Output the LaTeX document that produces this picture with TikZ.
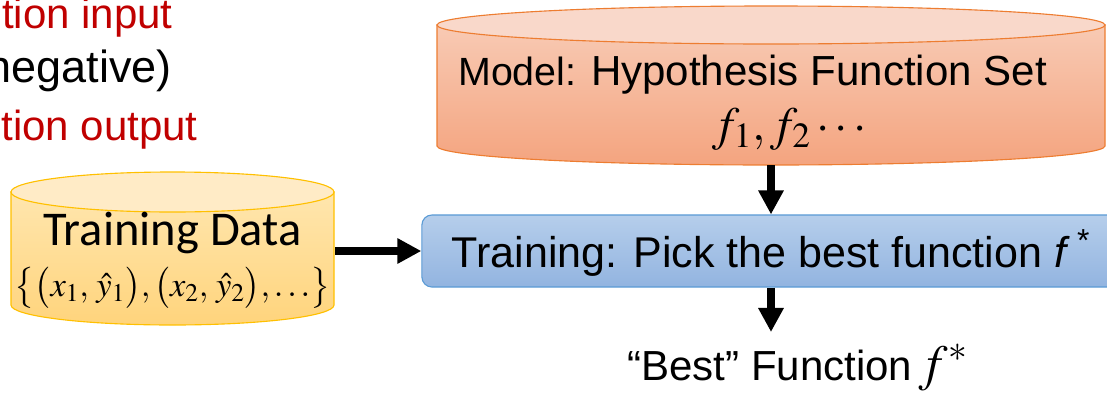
\documentclass[tikz,border=0pt]{standalone}
\usepackage{amsmath}
\usepackage{mathptmx}
\usepackage[no-math]{fontspec}
\setmainfont{Liberation Sans}
\newfontfamily\calibri{Carlito}
\usetikzlibrary{arrows.meta, positioning}

\definecolor{slidered}{HTML}{C00000}
\definecolor{datatop}{HTML}{FFEBC6}
\definecolor{dataupper}{HTML}{FFE6AE}
\definecolor{datalower}{HTML}{FFD47C}
\definecolor{dataline}{HTML}{FFC000}
\definecolor{modeltop}{HTML}{F9D8CA}
\definecolor{modelupper}{HTML}{F8CAB4}
\definecolor{modellower}{HTML}{F4A47F}
\definecolor{modelline}{HTML}{ED7D31}
\definecolor{boxupper}{HTML}{B6CEEB}
\definecolor{boxlower}{HTML}{92B4E0}
\definecolor{boxline}{HTML}{5B9BD5}

\newcommand{\pxsize}[1]{\fontsize{#1}{#1}\selectfont}

\tikzset{
    flow/.style={line width=5pt, -{Triangle[width=0.6cm, length=0.6cm]}},
    txt/.style={inner sep=0pt},
    trainbox/.style={draw=boxline, line width=0.8pt, rounded corners=0.25cm,
        top color=boxupper, bottom color=boxlower,
        minimum width=17.45cm, minimum height=1.8cm, inner sep=0pt,
        text height=23pt, text depth=0pt}
}

\begin{document}
\begin{tikzpicture}[x=0.025cm, y=-0.025cm]
    \useasboundingbox (0,0) rectangle (1107,396);
    \clip (0,0) rectangle (1107,396);

    % text cut off at the left
    \node[txt, anchor=base east, text=slidered] (in-lbl) at (173,28) {\pxsize{29.9pt}tion input};
    \node[txt, anchor=base east] (sign-lbl) at (172,82) {\pxsize{32pt}negative)};
    \node[txt, anchor=base east, text=slidered] (out-lbl) at (198,140) {\pxsize{29.9pt}tion output};

    % Training Data cylinder
    \draw[dataline, line width=0.8pt, top color=dataupper, bottom color=datalower]
        (11,192) -- (11,305) arc[start angle=180, end angle=0, x radius=161.5, y radius=20]
        -- (334,192) -- cycle;
    \draw[dataline, line width=0.8pt, fill=datatop] (172.5,192) ellipse[x radius=161.5, y radius=20];
    \node[txt, anchor=base] (data-lbl) at (172.5,245) {\calibri\pxsize{34.5pt}Training Data};
    \node[txt, anchor=base] (data-set) at (172.5,296)
        {\pxsize{24.5pt}$\bigl\{\bigl(x_1,\,\hat{y}_1\bigr),\bigl(x_2,\,\hat{y}_2\bigr),\ldots\bigr\}$};

    % Model cylinder
    \draw[modelline, line width=0.8pt, top color=modelupper, bottom color=modellower]
        (437,25) -- (437,146) arc[start angle=180, end angle=0, x radius=334, y radius=19]
        -- (1105,25) -- cycle;
    \draw[modelline, line width=0.8pt, fill=modeltop] (771,25) ellipse[x radius=334, y radius=19];
    \node[txt, anchor=base west] (model-lbl) at (458,85)
        {\pxsize{28pt}Model: \pxsize{29.9pt}Hypothesis Function Set};
    \node[txt, anchor=base] (model-fs) at (792,140) {\pxsize{34pt}$f_1,f_2\cdots$};

    % training step
    \node[trainbox] (train) at (771,251)
        {\pxsize{30.6pt}Training: Pick the best function \textit{f}\,\textsuperscript{*}};

    % result
    \node[txt, anchor=base west] (best) at (627,380) {\pxsize{29.9pt}“Best” Function\,{\pxsize{36pt}$f^{*}$}};

    \coordinate (data-r) at (335,251);
    \coordinate (model-b) at (771,165);
    \coordinate (best-tip) at (771,332);

    \draw[flow] (data-r) -- (train.west);
    \draw[flow] (model-b) -- (train.north);
    \draw[flow] (train.south) -- (best-tip);
\end{tikzpicture}
\end{document}
